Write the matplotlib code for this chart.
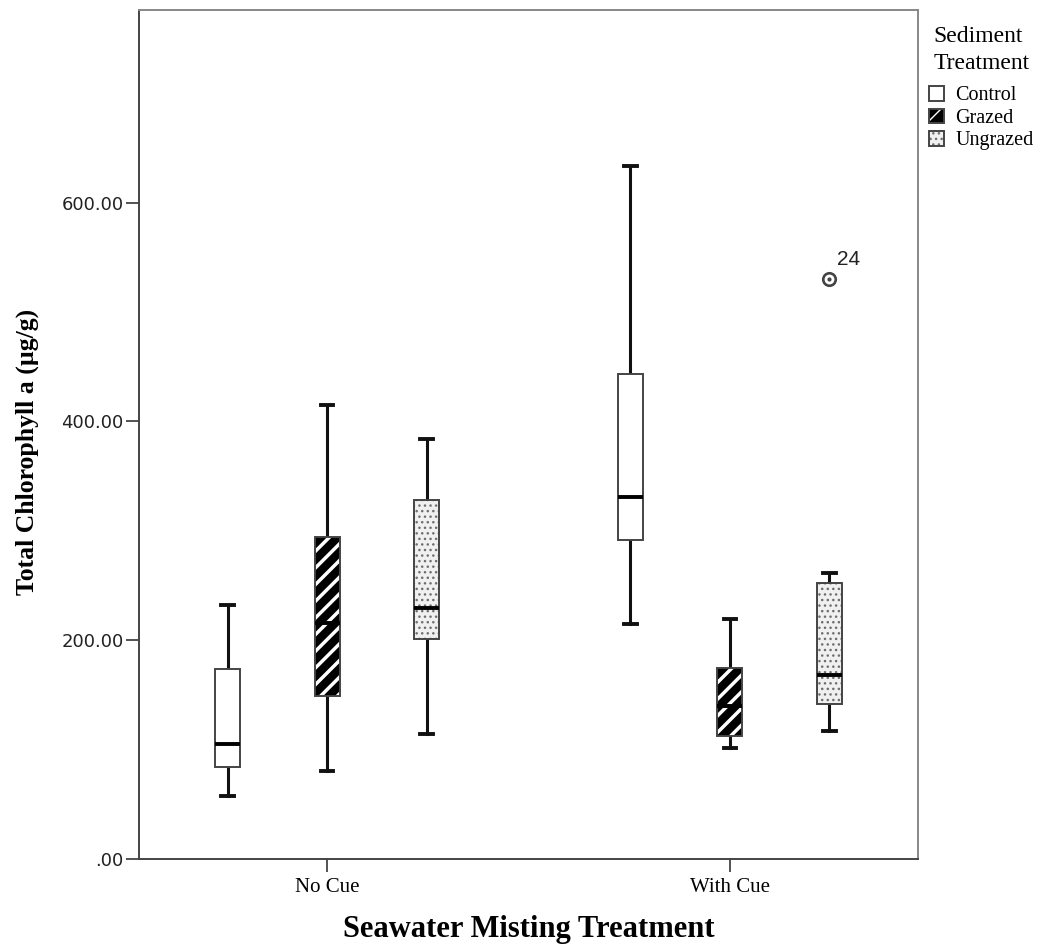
import matplotlib
matplotlib.use("Agg")
import matplotlib.pyplot as plt
from matplotlib.patches import Patch, PathPatch
from matplotlib.ticker import FuncFormatter, FixedLocator

# ---------------- data ----------------
categories = ["No Cue", "With Cue"]
treatments = ["Control", "Grazed", "Ungrazed"]
whislo = [[58, 80, 114], [215, 101, 117]]
q1 = [[84, 149, 201], [292, 112, 142]]
med = [[105, 216, 229], [331, 140, 168]]
q3 = [[174, 294, 328], [443, 175, 252]]
whishi = [[232, 415, 384], [633, 219, 261]]
fliers = [[[], [], []], [[], [], [530.5]]]
flier_ids = [[[], [], []], [[], [], ["24"]]]
yticks = [0, 200, 400, 600]

# ---------------- style ----------------
SERIF = "Liberation Serif"
edge = "#444444"
styles = {
    "Control": dict(face="white", hatch=None, hcol="white", hlw=1.0),
    "Grazed": dict(face="black", hatch="//", hcol="white", hlw=2.5),
    "Ungrazed": dict(face="#f0f0f0", hatch="...", hcol="#6e6e6e", hlw=1.0),
}


def hatch_patch_props(s):
    return dict(facecolor=s["face"], edgecolor=s["hcol"], hatch=s["hatch"], linewidth=0)


def apply_hlw(p, s):
    if hasattr(p, "set_hatch_linewidth"):
        p.set_hatch_linewidth(s["hlw"])


fig = plt.figure(figsize=(10.47, 9.44), dpi=100)
ax = fig.add_axes([139 / 1047, 1 - 859 / 944, 779 / 1047, 849 / 944])

offsets = [-0.247, 0.0, 0.247]
width = 0.062

for gi, cat in enumerate(categories):
    for ti, tr in enumerate(treatments):
        pos = gi + offsets[ti]
        st = dict(med=med[gi][ti], q1=q1[gi][ti], q3=q3[gi][ti],
                  whislo=whislo[gi][ti], whishi=whishi[gi][ti],
                  fliers=fliers[gi][ti])
        s = styles[tr]
        with plt.rc_context({"hatch.linewidth": s["hlw"]}):
            bp = ax.bxp([st], positions=[pos], widths=width, patch_artist=True,
                        manage_ticks=False, showfliers=True,
                        boxprops=dict(**hatch_patch_props(s), zorder=2),
                        medianprops=dict(color="black", linewidth=2.8, zorder=4,
                                         solid_capstyle="butt"),
                        whiskerprops=dict(color="#111111", linewidth=2.2, zorder=1),
                        capprops=dict(color="#111111", linewidth=2.8, zorder=1),
                        flierprops=dict(marker="o", markersize=9, markerfacecolor="white",
                                        markeredgecolor=edge, markeredgewidth=1.9, zorder=5))
        box = bp["boxes"][0]
        apply_hlw(box, s)
        ax.add_patch(PathPatch(box.get_path(), fill=False, edgecolor=edge,
                               linewidth=1.4, zorder=3))
        if fliers[gi][ti]:
            ax.plot([pos] * len(fliers[gi][ti]), fliers[gi][ti], linestyle="none",
                    marker="o", markersize=2, color=edge, zorder=6)
            for v, lab in zip(fliers[gi][ti], flier_ids[gi][ti]):
                ax.annotate(lab, (pos, v), xytext=(5.5, 7), textcoords="offset points",
                            fontsize=15, family="Liberation Sans", color="#222222",
                            ha="left", va="bottom")

ax.set_xlim(-0.467, 1.467)
ax.set_ylim(0, 776)

ax.xaxis.set_major_locator(FixedLocator(range(len(categories))))
ax.set_xticklabels(categories, fontsize=15, family=SERIF)
ax.yaxis.set_major_locator(FixedLocator(yticks))
ax.yaxis.set_major_formatter(FuncFormatter(lambda v, _: ".00" if v == 0 else f"{v:.2f}"))
for lab in ax.get_yticklabels():
    lab.set_fontsize(13)
    lab.set_family("DejaVu Sans")
    lab.set_color("#222222")

ax.tick_params(axis="x", direction="out", length=9.5, width=1.3, color=edge, pad=4)
ax.tick_params(axis="y", direction="out", length=9.5, width=1.3, color=edge, pad=1.5)

for sp in ax.spines.values():
    sp.set_color(edge)
    sp.set_linewidth(1.4)
ax.spines["top"].set_color("#888888")
ax.spines["right"].set_color("#888888")

ax.set_xlabel("Seawater Misting Treatment", fontsize=22, fontweight="bold", family=SERIF)
ax.xaxis.set_label_coords(0.5, -0.066)
ax.set_ylabel("Total Chlorophyll a (\u00b5g/g)", fontsize=18.5, fontweight="bold", family=SERIF)
ax.yaxis.set_label_coords(-0.128, 0.479)

handles = []
for tr in treatments:
    s = styles[tr]
    with plt.rc_context({"hatch.linewidth": s["hlw"]}):
        hp = Patch(**hatch_patch_props(s))
    apply_hlw(hp, s)
    handles.append((hp, Patch(fill=False, edgecolor=edge, linewidth=1.4)))
leg = ax.legend(handles, treatments, title="Sediment\nTreatment",
                loc="upper left", bbox_to_anchor=(929 / 1047, 1 - 26 / 944),
                bbox_transform=fig.transFigure, frameon=False,
                handlelength=0.75, handleheight=0.75, handletextpad=0.55,
                labelspacing=0.15, borderpad=0, borderaxespad=0,
                prop=dict(family=SERIF, size=14.5),
                title_fontproperties=dict(family=SERIF, size=17))
leg.get_title().set_linespacing(1.35)
try:
    leg._legend_box.sep = 9
except Exception:
    pass

fig.savefig("out.png", dpi=100)
